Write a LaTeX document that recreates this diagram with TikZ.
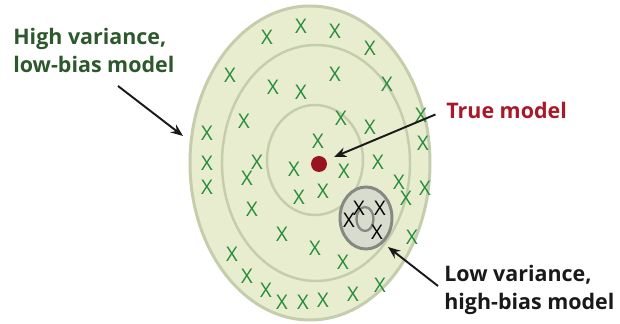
\documentclass[tikz,border=0pt]{standalone}
\usepackage{fontspec}
\setmainfont{Open Sans}
\setsansfont{Open Sans}
\usetikzlibrary{arrows.meta}
\definecolor{targetfill}{RGB}{232,237,208}
\definecolor{targetring}{RGB}{196,205,172}
\definecolor{markgreen}{RGB}{38,140,58}
\definecolor{labelgreen}{RGB}{44,88,44}
\definecolor{labelred}{RGB}{168,24,40}
\definecolor{truered}{RGB}{152,20,30}
\definecolor{clusterfill}{RGB}{216,220,206}
\definecolor{clusterline}{RGB}{134,137,130}
\tikzset{
  xmark/.style={font=\fontsize{11.5}{11.5}\selectfont, inner sep=0pt},
  callout/.style={font=\bfseries\fontsize{12.2}{16.4}\selectfont, align=left, inner sep=0pt, anchor=base west},
  pointer/.style={-{Stealth[length=7pt,width=5.5pt]}, line width=1.1pt, black!90}
}
\begin{document}
\begin{tikzpicture}[x=0.02cm,y=-0.02cm]
\useasboundingbox (0,0) rectangle (620,324);
% target rings
\draw[targetring, line width=1.7pt, fill=targetfill] (310,163) ellipse (120 and 157);
\draw[targetring, line width=1.4pt] (316,163) ellipse (94 and 118);
\draw[targetring, line width=1.4pt] (315,160) ellipse (48 and 55);
% scattered high-variance fits
\foreach \px/\py in {267/37,301/26,335/31,370/48,230/75,273/87,301/92,335/74,387/84,
    244/121,341/118,370/127,421/115,207/133,318/141,423/143,207/163,257/162,294/169,
    344/171,378/162,207/187,247/178,399/182,425/188,299/197,323/191,406/198,252/209,
    282/234,412/237,315/248,232/254,343/262,247/276,266/290,282/302,303/302,323/300,
    353/294,380/285}
  \node[xmark, markgreen] at (\px,\py) {X};
% low variance cluster
\draw[clusterline, line width=1.7pt, fill=clusterfill] (366,218) ellipse (26 and 31);
\draw[clusterline, line width=1.3pt] (365,219) ellipse (8.5 and 12);
\foreach \px/\py in {359/208,380/208,349/220,377/232}
  \node[xmark, black] at (\px,\py) {X};
\node[circle, fill=truered, inner sep=0pt, minimum size=16*0.02cm] (truedot) at (319,164) {};
% labels (base = last line)
\node[callout, labelgreen] (highvar) at (13,73) {High variance,\\low-bias model};
\node[callout, labelred] (truemodel) at (446,119) {True model};
\node[callout, black!90] (lowvar) at (444,310) {Low variance,\\high-bias model};
\coordinate (highend) at (183,136);
\coordinate (trueend) at (334,157);
\coordinate (lowend) at (388,247);
\draw[pointer] (118,86) -- (highend);
\draw[pointer] (truemodel.west) ++(-6pt,-2pt) -- (trueend);
\draw[pointer] (438,286) -- (lowend);
\end{tikzpicture}
\end{document}
